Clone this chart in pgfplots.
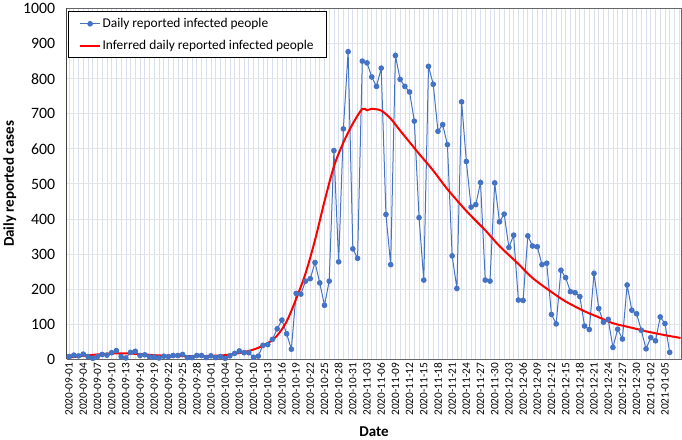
\documentclass[border=0pt]{standalone}
\usepackage{pgfplots}
\pgfplotsset{compat=1.18}
\usepackage{pgfplotstable}
\usepackage{fontspec}
\setmainfont{Carlito}
\definecolor{blueS}{HTML}{4472C4}
\definecolor{gridV}{HTML}{D9DFEC}
\definecolor{gridH}{HTML}{E2E4EA}
\pgfplotstableread{
d v
0 8
1 12
2 10
3 15
4 8
5 3
6 8
7 14
8 12
9 19
10 25
11 8
12 4
13 20
14 23
15 11
16 13
17 7
18 7
19 4
20 9
21 8
22 11
23 11
24 14
25 5
26 5
27 11
28 11
29 5
30 10
31 5
32 8
33 3
34 10
35 17
36 24
37 19
38 19
39 6
40 9
41 40
42 42
43 57
44 87
45 112
46 73
47 29
48 188
49 186
50 223
51 230
52 276
53 218
54 154
55 223
56 595
57 278
58 657
59 877
60 315
61 288
62 850
63 845
64 805
65 778
66 830
67 413
68 270
69 866
70 798
71 778
72 762
73 679
74 404
75 226
76 835
77 784
78 650
79 669
80 612
81 295
82 202
83 734
84 564
85 434
86 441
87 504
88 226
89 223
90 503
91 392
92 414
93 319
94 354
95 169
96 168
97 352
98 323
99 321
100 270
101 274
102 128
103 101
104 254
105 233
106 193
107 190
108 179
109 95
110 85
111 245
112 145
113 106
114 114
115 34
116 86
117 58
118 212
119 140
120 130
121 83
122 30
123 62
124 53
125 121
126 102
127 20
}\dailydata
\pgfplotstableread{
d v
0 5
3 10
6 14
9 17
12 17
15 15
18 12
21 10
24 9
27 9
30 10
33 12
36 18
38 24
40 33
42 46
44 68
46 108
48 172
50 245
52 340
54 450
56 550
58 618
60 672
62 714
63 710
64 714
66 709
68 686
70 652
72 619
74 586
77 538
80 485
84 423
88 368
91 323
95 272
98 232
102 192
105 165
109 137
112 120
115 103
119 90
122 80
126 69
129.3 61
}\fitdata
\begin{document}
\begin{tikzpicture}[x=1bp,y=1bp]
\begin{axis}[
  at={(0,0)}, anchor=south west,
  scale only axis, width=615bp, height=351bp,
  xmin=-0.5, xmax=129.5, ymin=0, ymax=1000,
  xtick={0,3,...,126},
  xticklabels={2020-09-01,2020-09-04,2020-09-07,2020-09-10,2020-09-13,2020-09-16,2020-09-19,2020-09-22,2020-09-25,2020-09-28,2020-10-01,2020-10-04,2020-10-07,2020-10-10,2020-10-13,2020-10-16,2020-10-19,2020-10-22,2020-10-25,2020-10-28,2020-10-31,2020-11-03,2020-11-06,2020-11-09,2020-11-12,2020-11-15,2020-11-18,2020-11-21,2020-11-24,2020-11-27,2020-11-30,2020-12-03,2020-12-06,2020-12-09,2020-12-12,2020-12-15,2020-12-18,2020-12-21,2020-12-24,2020-12-27,2020-12-30,2021-01-02,2021-01-05},
  minor xtick={0,1,...,129},
  ytick={0,100,...,1000},
  xminorgrids, ymajorgrids,
  minor grid style={gridV, line width=0.7bp},
  major grid style={gridH, line width=0.9bp},
  major tick length=0pt, minor tick length=0pt,
  separate axis lines,
  x axis line style={draw=black!60, line width=1bp},
  y axis line style={draw=black!60, line width=1bp},
  /pgf/number format/assume math mode=true,
  /pgf/number format/1000 sep={},
  yticklabel style={font=\fontsize{15.8bp}{18bp}\selectfont, xshift=-8bp},
  xticklabel style={font=\fontsize{11.3bp}{12bp}\selectfont, rotate=90, anchor=east, yshift=0bp},
  xlabel={Date},
  ylabel={Daily reported cases},
  every axis x label/.style={at={(axis description cs:0.5,-0.205)}, anchor=center, font=\bfseries\fontsize{15bp}{17bp}\selectfont},
  every axis y label/.style={at={(axis description cs:-0.0927,0.5)}, anchor=center, rotate=90, font=\bfseries\fontsize{15bp}{17bp}\selectfont},
  legend style={at={(axis description cs:0.0016,0.9915)}, anchor=north west,
    draw=black, line width=0.8bp, fill=white,
    inner xsep=11bp, inner ysep=5bp, row sep=8.4bp,
    font=\fontsize{13.4bp}{15bp}\selectfont,
    nodes={inner sep=1.5bp, anchor=west}},
  legend cell align=left,
  legend image code/.code={\draw[mark repeat=2,mark phase=2,#1] plot coordinates {(0bp,0bp) (10bp,0bp) (20bp,0bp)};},
]
\draw[black, line width=1.1bp] (axis cs:-0.5,0) -- (axis cs:-0.5,1000);
\addplot[blueS, line width=1bp, mark=*, mark size=2.3bp, mark options={fill=blueS, draw=blueS}] table[x=d,y=v] {\dailydata};
\addlegendentry{Daily reported infected people}
\addplot[red, line width=2bp, smooth, tension=0.5] table[x=d,y=v] {\fitdata};
\addlegendentry{Inferred daily reported infected people}
\end{axis}
\end{tikzpicture}
\end{document}
